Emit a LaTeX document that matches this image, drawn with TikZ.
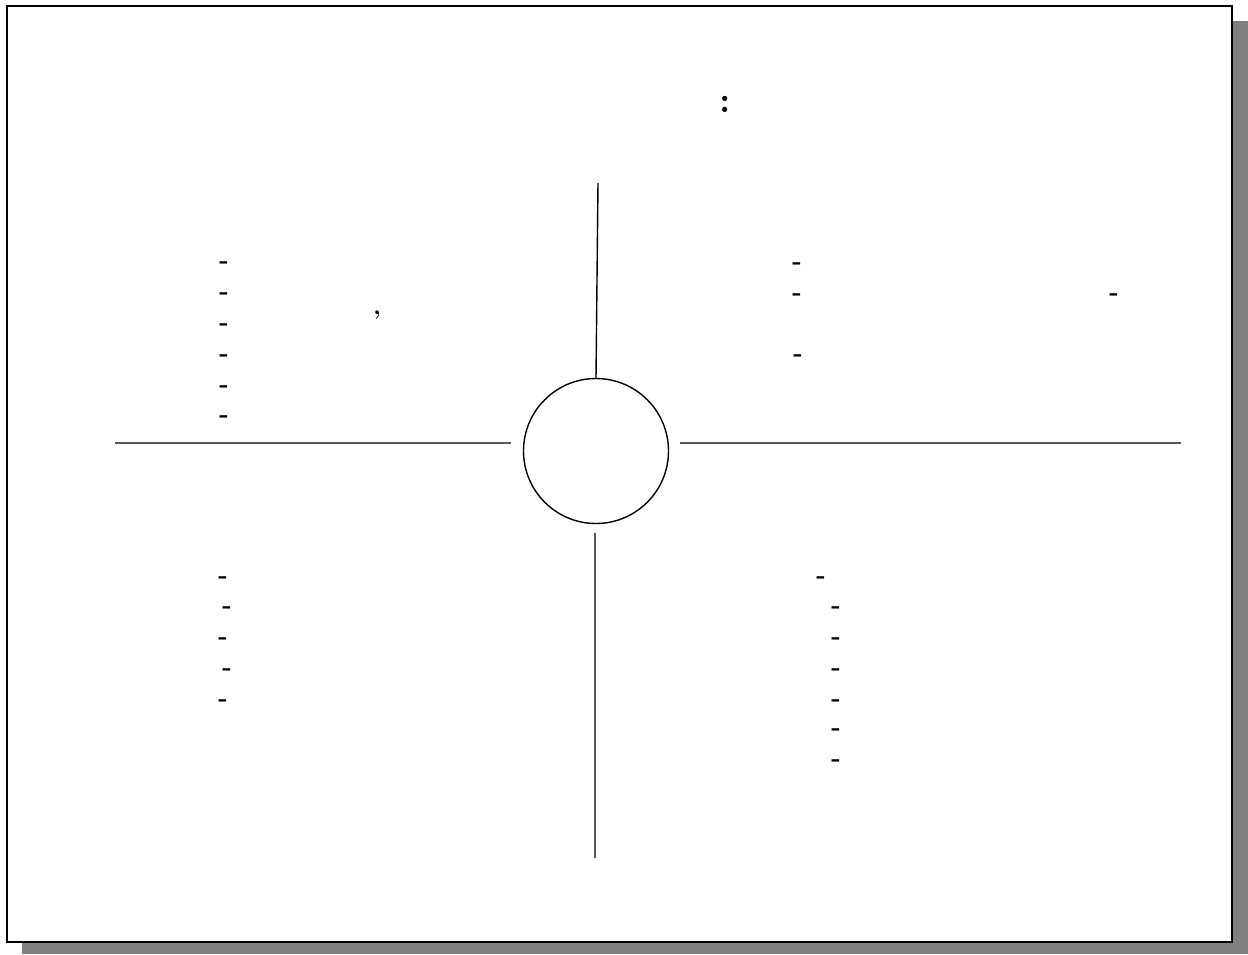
\documentclass[tikz,border=0pt]{standalone}
\usepackage{tikz}

\begin{document}
\begin{tikzpicture}[x=0.02cm,y=-0.02cm,dashmark/.style={font=\Large\bfseries,inner sep=0pt,yshift=-5.5*0.02cm}]
\useasboundingbox (0,0) rectangle (1248,954);
\fill[gray] (22,21) rectangle (1248,954);
\fill[white] (7,6) rectangle (1232,942);
\draw[line width=1.6pt] (7,6) rectangle (1232,942);
\node[font=\huge\bfseries,inner sep=0pt] (colon) at (725,104) {:};
\node[draw,circle,line width=0.8pt,minimum size=145*0.02cm,inner sep=0pt] (hub) at (596,451) {};
\coordinate (topend) at (598,183); \coordinate (leftend) at (115,443); \coordinate (rightend) at (1181,443); \coordinate (botend) at (595,858);
\coordinate (leftin) at (511,443); \coordinate (rightin) at (680,443); \coordinate (botin) at (595,533);
\draw[line width=0.8pt] (topend) -- (hub.north) (leftend) -- (leftin) (rightin) -- (rightend) (botin) -- (botend);
\foreach \y [count=\i] in {260,291,322,353,384,414} {\node[dashmark] (ul\i) at (224,\y) {-};}
\node[dashmark] (comma) at (377,310) {,};
\foreach \x/\y [count=\i] in {797/261,797/292,798/353,1114/292} {\node[dashmark] (ur\i) at (\x,\y) {-};}
\foreach \x/\y [count=\i] in {223/575,227/605,223/636,227/667,223/698} {\node[dashmark] (ll\i) at (\x,\y) {-};}
\foreach \x/\y [count=\i] in {821/575,836/605,836/636,836/667,836/698,836/727,836/758} {\node[dashmark] (lr\i) at (\x,\y) {-};}
\end{tikzpicture}
\end{document}
